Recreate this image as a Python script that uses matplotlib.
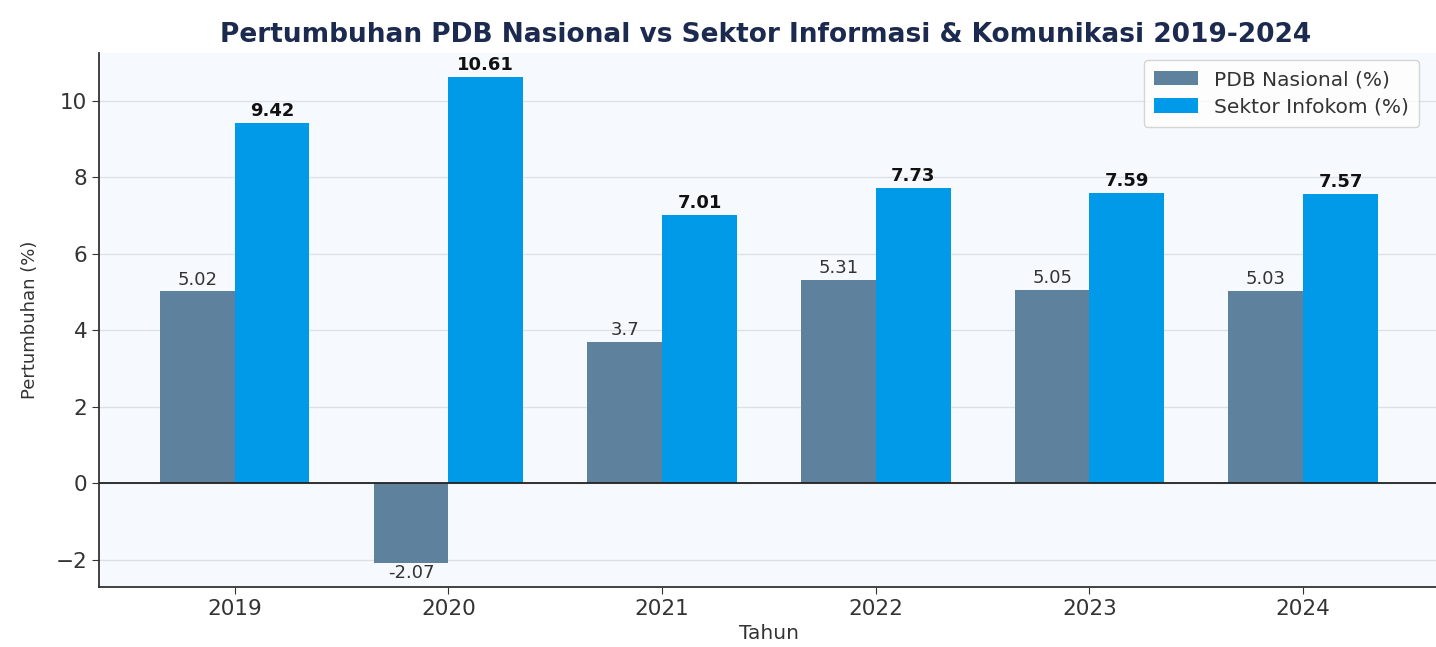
import numpy as np
import matplotlib.pyplot as plt

years = ["2019", "2020", "2021", "2022", "2023", "2024"]
pdb_nasional = [5.02, -2.07, 3.70, 5.31, 5.05, 5.03]
sektor_infokom = [9.42, 10.61, 7.01, 7.73, 7.59, 7.57]
pdb_labels = ["5.02", "-2.07", "3.7", "5.31", "5.05", "5.03"]
infokom_labels = ["9.42", "10.61", "7.01", "7.73", "7.59", "7.57"]

fig = plt.figure(figsize=(14.36, 6.47), dpi=100)
ax = fig.add_axes([99 / 1436, 60 / 647, 1 - 99 / 1436 + 0.002, 534 / 647])
ax.set_facecolor("#f6f9fe")

x = np.arange(len(years))
width = 0.35
b1 = ax.bar(x - width / 2, pdb_nasional, width, color="#5e829e", label="PDB Nasional (%)", zorder=3)
b2 = ax.bar(x + width / 2, sektor_infokom, width, color="#009ae8", label="Sektor Infokom (%)", zorder=3)

for rect, lab, v in zip(b1, pdb_labels, pdb_nasional):
    cx = rect.get_x() + rect.get_width() / 2
    if v >= 0:
        ax.annotate(lab, (cx, v), xytext=(0, 2), textcoords="offset points",
                    ha="center", va="bottom", fontsize=13, color="#333333")
    else:
        ax.annotate(lab, (cx, v), xytext=(0, -1), textcoords="offset points",
                    ha="center", va="top", fontsize=13, color="#333333")

for rect, lab, v in zip(b2, infokom_labels, sektor_infokom):
    cx = rect.get_x() + rect.get_width() / 2
    ax.annotate(lab, (cx, v), xytext=(0, 2), textcoords="offset points",
                ha="center", va="bottom", fontsize=13, fontweight="bold", color="#111111")

ax.axhline(0, color="#222222", linewidth=1.3, zorder=4)
ax.grid(axis="y", color="#dde1e6", linewidth=1.0, zorder=0)
ax.set_axisbelow(True)

ax.set_xticks(x)
ax.set_xticklabels(years)
ax.tick_params(axis="both", labelsize=15.5, colors="#333333", length=5)
ax.set_xlabel("Tahun", fontsize=14.5, color="#333333", labelpad=4)
ax.set_ylabel("Pertumbuhan (%)", fontsize=13, color="#333333", labelpad=12)
ax.spines["top"].set_visible(False)
ax.spines["right"].set_visible(False)
ax.spines["left"].set_color("#333333")
ax.spines["bottom"].set_color("#333333")
ax.spines["left"].set_linewidth(1.3)
ax.spines["bottom"].set_linewidth(1.3)

fig.suptitle("Pertumbuhan PDB Nasional vs Sektor Informasi & Komunikasi 2019-2024",
             fontsize=19, fontweight="bold", color="#1b2a4e", x=0.533, y=0.966)

leg = ax.legend(loc="upper right", fontsize=14.5, frameon=True, fancybox=True,
                borderpad=0.5, handlelength=2.2, labelspacing=0.4,
                bbox_to_anchor=(0.993, 1.005))
leg.get_frame().set_edgecolor("#cccccc")
for t in leg.get_texts():
    t.set_color("#333333")

fig.savefig("out.png", dpi=100, facecolor="white")
